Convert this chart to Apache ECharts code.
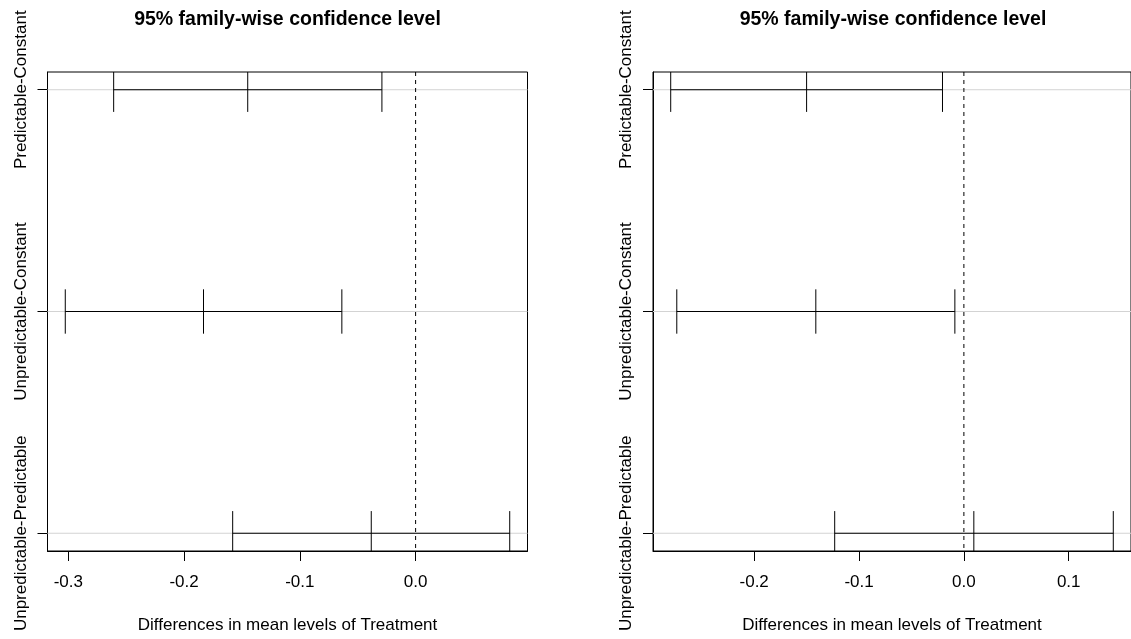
<!DOCTYPE html>
<html>
<head>
<meta charset="utf-8">
<title>95% family-wise confidence level</title>
<script src="https://cdn.jsdelivr.net/npm/echarts@6/dist/echarts.min.js"></script>
<style>
  html, body { margin: 0; padding: 0; background: #fff; }
  #chart { width: 1131px; height: 639px; }
</style>
</head>
<body>
<div id="chart"></div>
<script>
// Tukey HSD comparisons, one row per pair (top to bottom)
const comparisons = ['Predictable-Constant', 'Unpredictable-Constant', 'Unpredictable-Predictable'];
const rowPositions = [3, 2, 1];

// Left panel: lower bound, difference, upper bound
const leftLwr  = [-0.2608, -0.3026, -0.1580];
const leftDiff = [-0.1450, -0.1832, -0.0383];
const leftUpr  = [-0.0291, -0.0637,  0.0813];

// Right panel: lower bound, difference, upper bound
const rightLwr  = [-0.2796, -0.2738, -0.1232];
const rightDiff = [-0.1500, -0.1412,  0.0095];
const rightUpr  = [-0.0204, -0.0086,  0.1425];

// Axis ticks
const leftTicks  = [-0.3, -0.2, -0.1, 0.0];
const rightTicks = [-0.2, -0.1, 0.0, 0.1];

const titleText = '95% family-wise confidence level';
const xAxisName = 'Differences in mean levels of Treatment';

const FONT = '"Liberation Sans", Arial, Helvetica, sans-serif';
const INK = '#000';

// x-range: data extent widened by 4% on each side
function paddedRange(lwr, upr) {
  const lo = Math.min(...lwr), hi = Math.max(...upr);
  const pad = (hi - lo) * 0.04;
  return [lo - pad, hi + pad];
}

function rows(lwr, diff, upr) {
  return comparisons.map((c, i) => [lwr[i], diff[i], upr[i], rowPositions[i]]);
}

// light grey guide across the plot at each comparison
function guideItem(params, api) {
  const cs = params.coordSys;
  const y = api.coord([0, api.value(3)])[1];
  return {
    type: 'line',
    shape: { x1: cs.x, y1: y, x2: cs.x + cs.width, y2: y },
    style: { stroke: '#d3d3d3', lineWidth: 1 }
  };
}

// dashed reference line at zero difference
function zeroItem(params, api) {
  const cs = params.coordSys;
  const x = api.coord([api.value(0), 2])[0];
  return {
    type: 'line',
    shape: { x1: x, y1: cs.y, x2: x, y2: cs.y + cs.height },
    style: { stroke: INK, lineWidth: 1, lineDash: [4, 4] }
  };
}

// interval: horizontal segment plus end and centre bars (+/- 0.1 row units)
function intervalItem(params, api) {
  const y = api.value(3);
  const a = api.coord([api.value(0), y]);
  const b = api.coord([api.value(2), y]);
  const children = [{
    type: 'line',
    shape: { x1: a[0], y1: a[1], x2: b[0], y2: b[1] },
    style: { stroke: INK, lineWidth: 1 }
  }];
  [0, 1, 2].forEach(k => {
    const p = api.coord([api.value(k), y + 0.1]);
    const q = api.coord([api.value(k), y - 0.1]);
    children.push({
      type: 'line',
      shape: { x1: p[0], y1: p[1], x2: q[0], y2: q[1] },
      style: { stroke: INK, lineWidth: 1 }
    });
  });
  return { type: 'group', children };
}

const leftRange = paddedRange(leftLwr, leftUpr);
const rightRange = paddedRange(rightLwr, rightUpr);

const grids = [
  { left: 47.5, top: 72, width: 480, height: 479 },
  { left: 653, top: 72, width: 480, height: 479 }
];

function xAxisFor(gridIndex, range, ticks) {
  return {
    type: 'value', gridIndex,
    min: range[0], max: range[1],
    name: xAxisName, nameLocation: 'middle', nameGap: 66,
    nameTextStyle: { fontFamily: FONT, fontSize: 17, color: INK },
    axisLine: { show: true, onZero: false, lineStyle: { color: INK, width: 1 } },
    axisTick: { show: true, customValues: ticks, length: 10, lineStyle: { color: INK, width: 1 } },
    axisLabel: {
      show: true, customValues: ticks, margin: 23,
      fontFamily: FONT, fontSize: 17, color: INK,
      formatter: v => v.toFixed(1)
    },
    splitLine: { show: false }
  };
}

function yAxisFor(gridIndex) {
  return {
    type: 'value', gridIndex,
    min: 0.92, max: 3.08,
    axisLine: { show: true, onZero: false, lineStyle: { color: INK, width: 1 } },
    axisTick: { show: true, customValues: rowPositions, length: 10, lineStyle: { color: INK, width: 1 } },
    axisLabel: {
      show: true, customValues: rowPositions, rotate: 90, margin: 18,
      fontFamily: FONT, fontSize: 17, color: INK,
      formatter: v => comparisons[rowPositions.indexOf(Math.round(v))] || ''
    },
    splitLine: { show: false }
  };
}

function panelSeries(idx, data) {
  return [
    { type: 'custom', xAxisIndex: idx, yAxisIndex: idx, renderItem: guideItem,
      data, silent: true, z: 1, clip: true },
    { type: 'custom', xAxisIndex: idx, yAxisIndex: idx, renderItem: zeroItem,
      data: [[0, 2]], silent: true, z: 2, clip: true },
    { type: 'custom', xAxisIndex: idx, yAxisIndex: idx, renderItem: intervalItem,
      data, silent: true, z: 3, clip: true }
  ];
}

const option = {
  animation: false,
  backgroundColor: '#fff',
  title: grids.map(g => ({
    text: titleText,
    left: g.left + g.width / 2,
    top: 10,
    textAlign: 'center',
    padding: 0,
    textStyle: { fontFamily: FONT, fontSize: 19.5, fontWeight: 'bold', color: INK }
  })),
  grid: grids.map(g => Object.assign({ show: true, borderColor: INK, borderWidth: 1, backgroundColor: 'transparent' }, g)),
  xAxis: [xAxisFor(0, leftRange, leftTicks), xAxisFor(1, rightRange, rightTicks)],
  yAxis: [yAxisFor(0), yAxisFor(1)],
  series: [
    ...panelSeries(0, rows(leftLwr, leftDiff, leftUpr)),
    ...panelSeries(1, rows(rightLwr, rightDiff, rightUpr))
  ]
};

const chart = echarts.init(document.getElementById('chart'), null, { renderer: 'canvas' });
chart.setOption(option);
</script>
</body>
</html>
